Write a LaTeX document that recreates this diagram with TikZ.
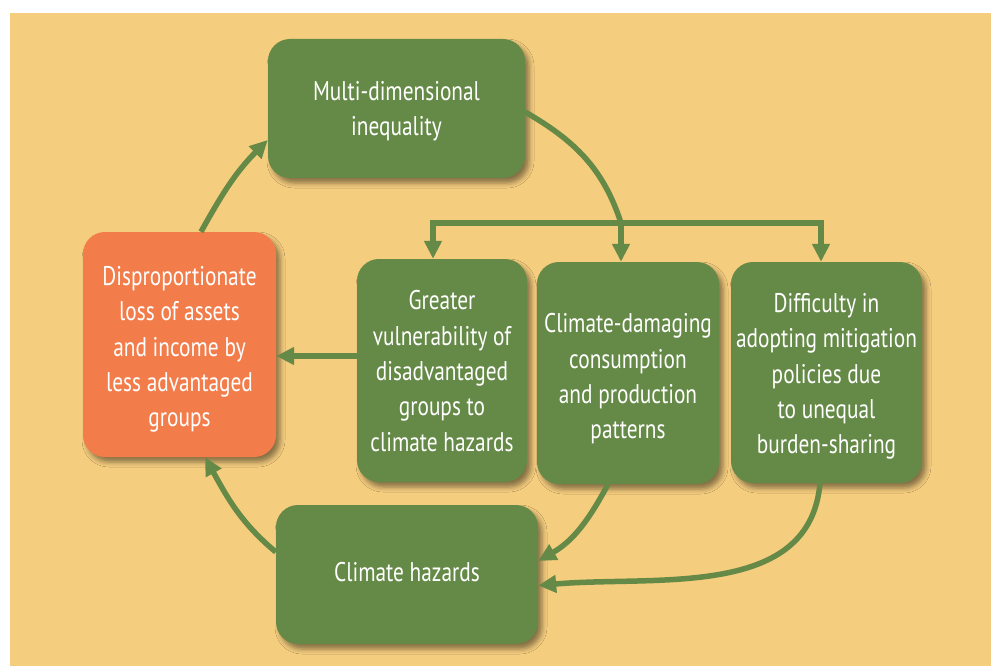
\documentclass[tikz,border=0pt]{standalone}
\usepackage{fontspec}
\setmainfont{PT Sans}[FakeStretch=0.79]
\usetikzlibrary{arrows.meta,shadows.blur}
\definecolor{bgy}{HTML}{F5CD7E}
\definecolor{gr}{HTML}{658A47}
\definecolor{org}{HTML}{F27D4B}
\begin{document}
\begin{tikzpicture}[x=1pt,y=1pt,
  box/.style={rectangle, rounded corners=22pt, fill=gr, inner sep=0pt,
    blur shadow={shadow xshift=4pt, shadow yshift=-5pt, shadow opacity=45, shadow blur radius=5pt}},
  txt/.style={text=white, align=center, font=\fontsize{27}{35.3}\selectfont, inner sep=0pt},
  tipa/.tip={Triangle[length=18pt,width=17pt]},
  conn/.style={draw=gr, line width=5.5pt, -tipa},
]
\useasboundingbox (0,0) rectangle (991,-666);
\fill[white] (0,0) rectangle (991,-666);
\fill[bgy] (10,-13) rectangle (991,-666);

\node[box, minimum width=257pt, minimum height=139pt] (mi) at (396.5,-108.5) {};
\node[box, fill=org, minimum width=193pt, minimum height=225pt] (dp) at (179.5,-344.5) {};
\node[box, minimum width=170pt, minimum height=223pt] (gv) at (442,-370.5) {};
\node[box, minimum width=182pt, minimum height=222pt] (cd) at (628,-373) {};
\node[box, minimum width=191pt, minimum height=221pt] (df) at (826.5,-372.5) {};
\node[box, minimum width=262pt, minimum height=139pt] (hz) at (407,-574.5) {};

\node[txt] (tmi) at ([yshift=-3pt]mi.center) {Multi-dimensional\\inequality};
\node[txt] (tdp) at ([yshift=-5pt]dp.center) {Disproportionate\\loss of assets\\and income by\\less advantaged\\groups};
\node[txt] (tgv) at ([yshift=-0.5pt]gv.center) {Greater\\vulnerability of\\disadvantaged\\groups to\\climate hazards};
\node[txt] (tcd) at ([yshift=-6pt]cd.center) {Climate-damaging\\consumption\\and production\\patterns};
\node[txt] (tdf) at ([yshift=-4pt]df.center) {Difficulty in\\adopting mitigation\\policies due\\to unequal\\burden-sharing};
\node[txt] (thz) at ([yshift=2pt]hz.center) {Climate hazards};

\coordinate (jL) at (433,-223);
\coordinate (jM) at (621,-223);
\coordinate (jR) at (821,-223);
\coordinate (gvL) at ([yshift=14.5pt]gv.west);

% cycle
\draw[conn] ([xshift=21.5pt]dp.north) to[out=61,in=225] ([yshift=-31.5pt]mi.west);
\draw[draw=gr, line width=5.5pt] ([yshift=-3.5pt]mi.east) to[out=-30,in=108] (jM);
\draw[draw=gr, line width=5.5pt, line join=miter, tipa-tipa] (jL |- gv.north) -- (jL) -- (jR) -- (jR |- df.north);
\draw[conn] (jM) -- (jM |- cd.north);
\draw[conn] (gvL) -- (gvL -| dp.east);
\draw[conn] ([xshift=-20pt]cd.south) to[out=-118,in=30] ([yshift=13.5pt]hz.east);
\draw[conn] ([xshift=-6.5pt]df.south) to[out=-95,in=5] ([yshift=-11pt]hz.east);
\draw[conn] ([yshift=22.5pt]hz.west) to[out=140,in=-61] ([xshift=25.5pt]dp.south);
\end{tikzpicture}
\end{document}
